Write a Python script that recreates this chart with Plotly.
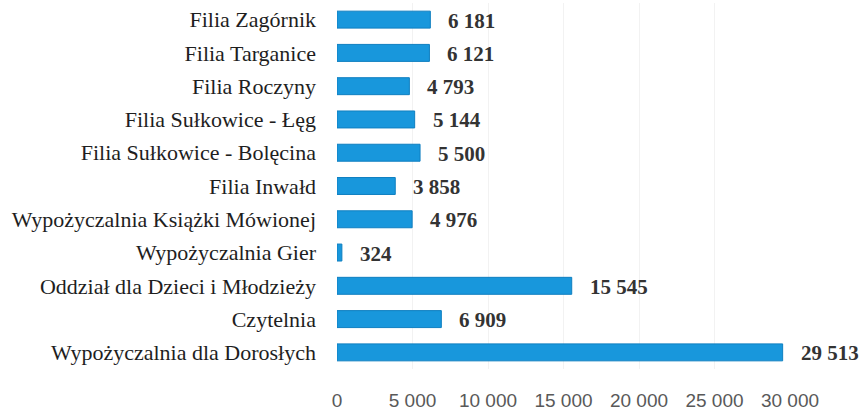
import plotly.graph_objects as go

categories = [
    "Wypożyczalnia dla Dorosłych",
    "Czytelnia",
    "Oddział dla Dzieci i Młodzieży",
    "Wypożyczalnia Gier",
    "Wypożyczalnia Książki Mówionej",
    "Filia Inwałd",
    "Filia Sułkowice - Bolęcina",
    "Filia Sułkowice - Łęg",
    "Filia Roczyny",
    "Filia Targanice",
    "Filia Zagórnik",
]
values = [29513, 6909, 15545, 324, 4976, 3858, 5500, 5144, 4793, 6121, 6181]
tick_vals = [0, 5000, 10000, 15000, 20000, 25000, 30000]
tick_text = ["0", "5 000", "10 000", "15 000", "20 000", "25 000", "30 000"]


def fmt(v):
    return f"{v:,}".replace(",", " ")


fig = go.Figure(
    go.Bar(
        y=categories,
        x=values,
        orientation="h",
        marker=dict(color="#1897dc", line=dict(color="#0f7fc0", width=1)),
        hoverinfo="x+y",
    )
)

for c, v in zip(categories, values):
    fig.add_annotation(
        x=v, y=c, xref="x", yref="y",
        text="<b>" + fmt(v) + "</b>",
        showarrow=False, xanchor="left", yanchor="middle",
        xshift=16, yshift=-1,
        font=dict(family="Liberation Serif", size=21, color="#333333"),
    )

fig.update_layout(
    width=861,
    height=412,
    margin=dict(l=337, r=71, t=3, b=43),
    paper_bgcolor="white",
    plot_bgcolor="white",
    bargap=0.49,
    showlegend=False,
    xaxis=dict(
        range=[0, 30000],
        tickvals=tick_vals,
        ticktext=tick_text,
        showgrid=True,
        gridcolor="#f2f2f2",
        zeroline=False,
        tickfont=dict(family="Liberation Sans", size=19, color="#595959"),
        ticklabelstandoff=18,
        automargin=False,
    ),
    yaxis=dict(
        tickfont=dict(family="Liberation Serif", size=22, color="#1e1e1e"),
        ticklabelstandoff=20,
        showgrid=False,
        automargin=False,
    ),
)

fig.write_html(
    "out.html",
    config={"displayModeBar": False},
    post_script="document.body.style.margin='0';",
)
